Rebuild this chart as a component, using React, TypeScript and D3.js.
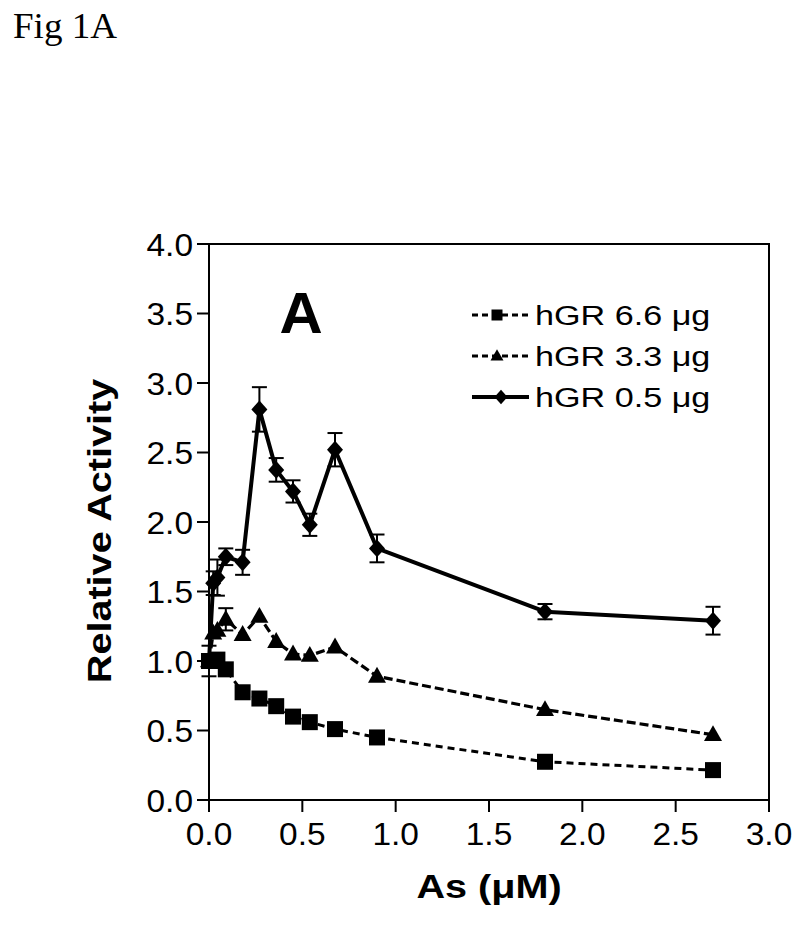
import React from "react";
import * as d3 from "d3";

const xDoses = [0, 0.0225, 0.045, 0.09, 0.18, 0.27, 0.36, 0.45, 0.54, 0.675, 0.9, 1.8, 2.7];
const gr66 = [1.0, 1.0, 1.01, 0.94, 0.775, 0.73, 0.675, 0.6, 0.56, 0.51, 0.45, 0.275, 0.215];
const gr33 = [1.0, 1.2, 1.22, 1.3, 1.19, 1.32, 1.14, 1.05, 1.04, 1.1, 0.89, 0.65, 0.47];
const gr05 = [1.0, 1.56, 1.6, 1.75, 1.71, 2.81, 2.375, 2.22, 1.98, 2.52, 1.81, 1.355, 1.29];
const gr05Err = [0.11, 0.085, 0.13, 0.06, 0.09, 0.16, 0.085, 0.08, 0.08, 0.12, 0.1, 0.055, 0.1];
const gr33Err = [0, 0, 0, 0.08, 0, 0, 0, 0, 0, 0, 0, 0, 0];
const xTicks = [0, 0.5, 1.0, 1.5, 2.0, 2.5, 3.0];
const yTicks = [0, 0.5, 1.0, 1.5, 2.0, 2.5, 3.0, 3.5, 4.0];
const legendLabels = ["hGR 6.6 \u03bcg", "hGR 3.3 \u03bcg", "hGR 0.5 \u03bcg"];
const xTitle = "As (\u03bcM)";
const yTitle = "Relative Activity";
const figTitle = "Fig 1A";
const panelLabel = "A";

const W = 800;
const H = 928;
const x = d3.scaleLinear().domain([0, 3]).range([209, 769]);
const y = d3.scaleLinear().domain([0, 4]).range([800, 244]);

const FONT = "Liberation Sans, Arial, Helvetica, sans-serif";

function marker(type: string, cx: number, cy: number, s: number) {
  if (type === "square") {
    return <rect x={cx - s / 2} y={cy - s / 2} width={s} height={s} fill="#000" />;
  }
  if (type === "triangle") {
    const h = s * 0.88;
    return (
      <path
        d={`M${cx},${cy - h * 0.6}L${cx + s / 2},${cy + h * 0.4}L${cx - s / 2},${cy + h * 0.4}Z`}
        fill="#000"
      />
    );
  }
  const hw = s / 2;
  const hh = s * 0.56;
  return <path d={`M${cx},${cy - hh}L${cx + hw},${cy}L${cx},${cy + hh}L${cx - hw},${cy}Z`} fill="#000" />;
}

function STxt(props: { x: number; y: number; sx: number; anchor?: string; size: number; bold?: boolean; rotate?: number; family?: string; children: React.ReactNode }) {
  const { x: tx, y: ty, sx, anchor, size, bold, rotate, family, children } = props;
  return (
    <g transform={`translate(${tx},${ty}) rotate(${rotate || 0}) scale(${sx},1)`}>
      <text
        x={0}
        y={0}
        textAnchor={anchor || "start"}
        fontSize={size}
        fontWeight={bold ? "bold" : "normal"}
        fontFamily={family || FONT}
        fill="#000"
      >
        {children}
      </text>
    </g>
  );
}

export default function App() {
  const line = d3
    .line<number>()
    .x((_, i) => x(xDoses[i]))
    .y((v) => y(v));

  const series = [
    { vals: gr66, type: "square", dash: "7,5", width: 3, size: 16, err: null as number[] | null },
    { vals: gr33, type: "triangle", dash: "9,4", width: 3.2, size: 18, err: gr33Err },
    { vals: gr05, type: "diamond", dash: "", width: 4, size: 16, err: gr05Err },
  ];

  const cap = 7.5;

  return (
    <svg width={W} height={H} style={{ position: "absolute", left: 0, top: 0, background: "#fff" }}>
      <rect x={0} y={0} width={W} height={H} fill="#fff" />
      <STxt x={13} y={38} sx={1.03} size={36} family="Liberation Serif, Times New Roman, serif">
        {figTitle}
      </STxt>

      {/* frame */}
      <rect x={x(0)} y={y(4)} width={x(3) - x(0)} height={y(0) - y(4)} fill="none" stroke="#000" strokeWidth={2} />

      {/* y ticks */}
      {yTicks.map((t) => (
        <g key={"y" + t}>
          <line x1={x(0) - 12} x2={x(0)} y1={y(t)} y2={y(t)} stroke="#000" strokeWidth={2} />
          <STxt x={193} y={y(t) + 11.5} sx={1.08} anchor="end" size={31}>
            {t.toFixed(1)}
          </STxt>
        </g>
      ))}
      {/* x ticks */}
      {xTicks.map((t) => (
        <g key={"x" + t}>
          <line x1={x(t)} x2={x(t)} y1={y(0)} y2={y(0) + 12} stroke="#000" strokeWidth={2} />
          <STxt x={x(t)} y={845} sx={1.08} anchor="middle" size={31}>
            {t.toFixed(1)}
          </STxt>
        </g>
      ))}

      <STxt x={111} y={531} sx={1.2} anchor="middle" size={33} bold rotate={-90}>
        {yTitle}
      </STxt>
      <STxt x={489} y={898} sx={1.2} anchor="middle" size={33} bold>
        {xTitle}
      </STxt>
      <STxt x={301} y={333} sx={1.05} anchor="middle" size={57} bold>
        {panelLabel}
      </STxt>

      {/* series */}
      {series.map((s, si) => (
        <g key={"s" + si}>
          <path
            d={line(s.vals) || ""}
            fill="none"
            stroke="#000"
            strokeWidth={s.width}
            strokeDasharray={s.dash || undefined}
            strokeLinejoin="round"
          />
          {s.err &&
            s.vals.map((v, i) =>
              s.err![i] > 0 ? (
                <g key={"e" + i} stroke="#000" strokeWidth={2}>
                  <line x1={x(xDoses[i])} x2={x(xDoses[i])} y1={y(v - s.err![i])} y2={y(v + s.err![i])} />
                  <line x1={x(xDoses[i]) - cap} x2={x(xDoses[i]) + cap} y1={y(v + s.err![i])} y2={y(v + s.err![i])} />
                  <line x1={x(xDoses[i]) - cap} x2={x(xDoses[i]) + cap} y1={y(v - s.err![i])} y2={y(v - s.err![i])} />
                </g>
              ) : null
            )}
          {s.vals.map((v, i) => (
            <g key={"m" + i}>{marker(s.type, x(xDoses[i]), y(v), s.size)}</g>
          ))}
        </g>
      ))}

      {/* legend */}
      {series.map((s, i) => {
        const ly = 315 + i * 41;
        return (
          <g key={"l" + i}>
            <line
              x1={472}
              x2={529}
              y1={ly}
              y2={ly}
              stroke="#000"
              strokeWidth={s.width}
              strokeDasharray={s.dash ? "6,4" : undefined}
            />
            {marker(s.type, i === 2 ? 501 : 497, ly, s.type === "square" ? 11 : 13)}
            <STxt x={535} y={ly + 10} sx={1.22} size={28}>
              {legendLabels[i]}
            </STxt>
          </g>
        );
      })}
    </svg>
  );
}
